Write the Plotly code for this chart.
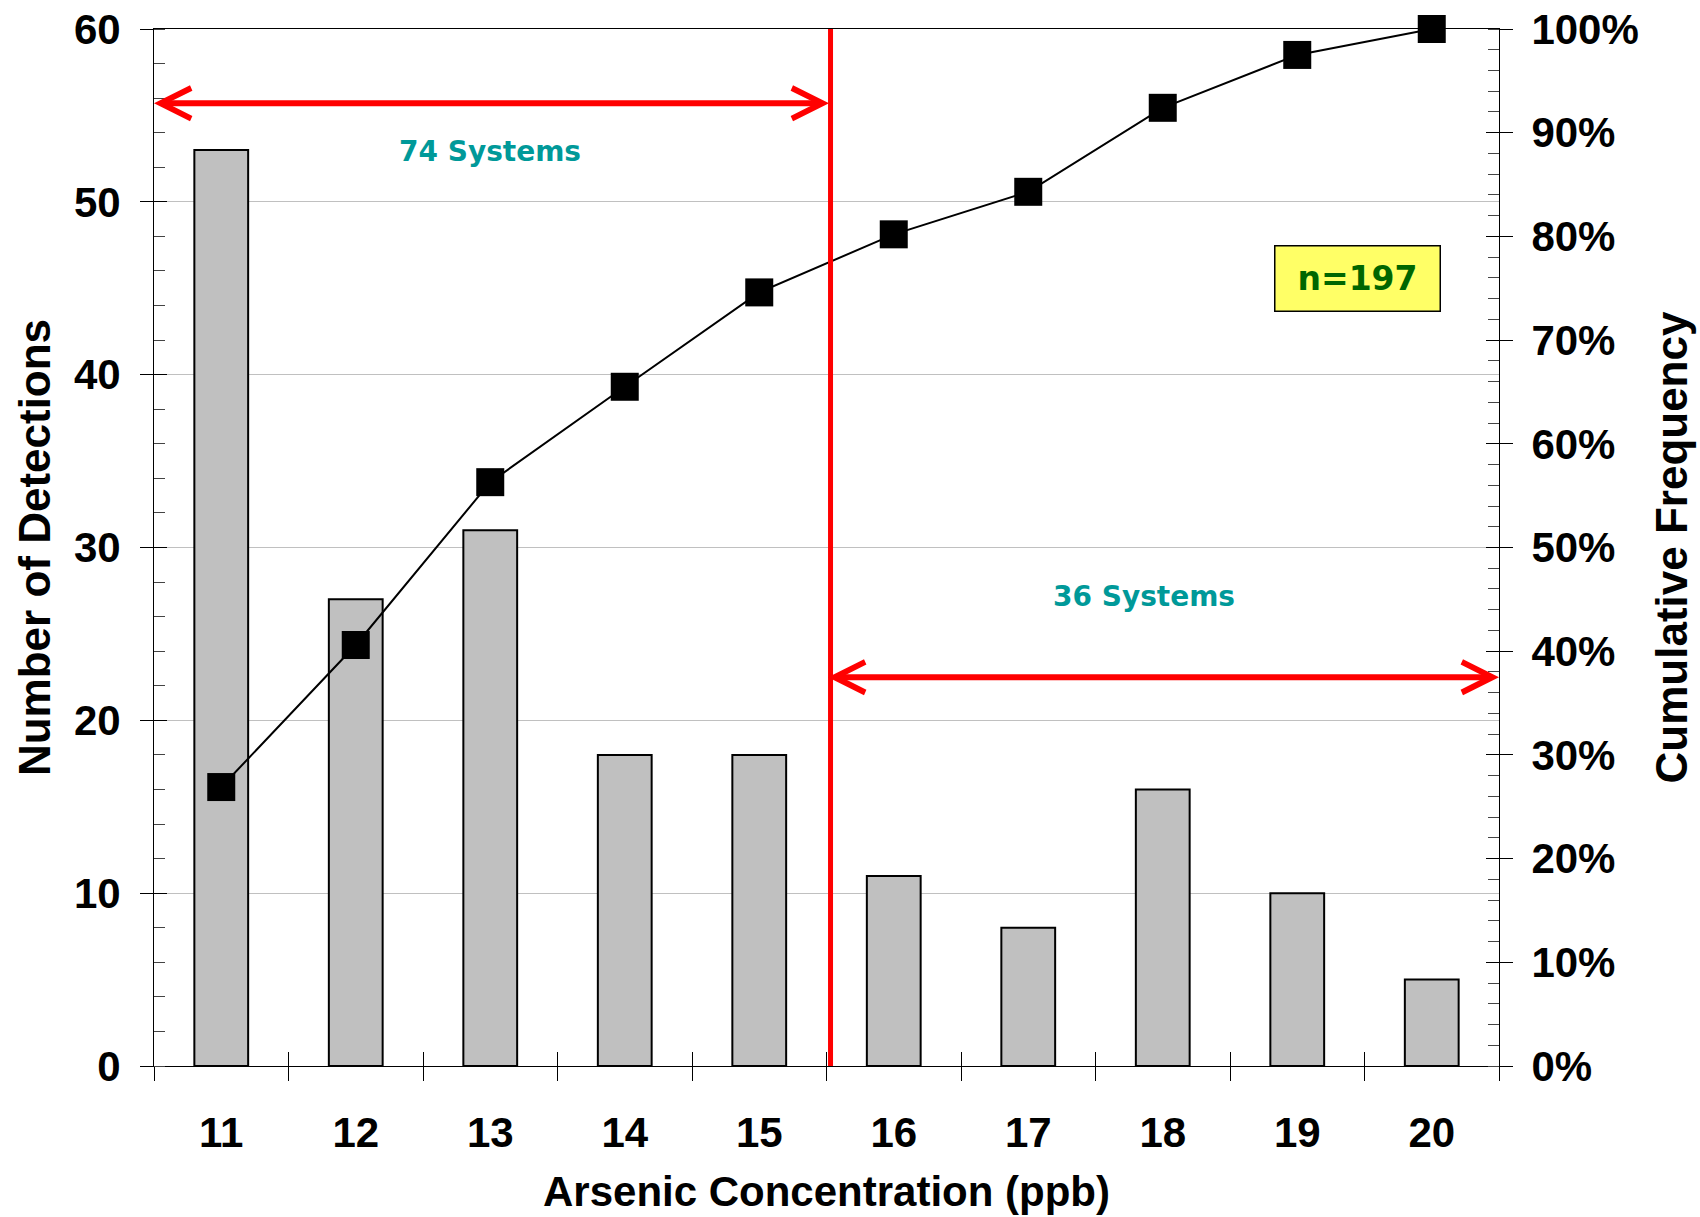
import plotly.graph_objects as go

# ---------------- data ----------------
concentration = [11, 12, 13, 14, 15, 16, 17, 18, 19, 20]
detections = [53, 27, 31, 18, 18, 11, 8, 16, 10, 5]
cumulative_pct = [26.9, 40.6, 56.3, 65.5, 74.6, 80.2, 84.3, 92.4, 97.5, 100.0]

left_ticks = [0, 10, 20, 30, 40, 50, 60]
right_ticks = [0, 10, 20, 30, 40, 50, 60, 70, 80, 90, 100]
right_tick_labels = ["0%", "10%", "20%", "30%", "40%", "50%", "60%", "70%", "80%", "90%", "100%"]
category_bounds = [10.5, 11.5, 12.5, 13.5, 14.5, 15.5, 16.5, 17.5, 18.5, 19.5, 20.5]

x_title = "Arsenic Concentration (ppb)"
y_title = "Number of Detections"
y2_title = "Cumulative Frequency"
label_left = "74 Systems"
label_right = "36 Systems"
label_n = "n=197"

threshold = 15.53
# ---------------------------------------

FONT = "Liberation Sans"
tickfont = dict(family=FONT, size=42, color="black", weight="bold")
xtitlefont = dict(family=FONT, size=42, color="black", weight="bold")
ytitlefont = dict(family=FONT, size=44, color="black", weight="bold")

fig = go.Figure()

fig.add_trace(go.Bar(
    x=concentration, y=detections, width=0.4,
    marker=dict(color="#C0C0C0", line=dict(color="black", width=2)),
    xaxis="x", yaxis="y", hoverinfo="skip",
))

fig.add_trace(go.Scatter(
    x=concentration, y=cumulative_pct, mode="lines+markers",
    line=dict(color="black", width=2),
    marker=dict(symbol="square", size=28, color="black"),
    xaxis="x", yaxis="y2", cliponaxis=False, hoverinfo="skip",
))

# helper (invisible) traces so the overlay tick axes get drawn
fig.add_trace(go.Scatter(x=concentration, y=detections, mode="markers",
                         marker=dict(opacity=0), xaxis="x2", yaxis="y3", hoverinfo="skip"))
fig.add_trace(go.Scatter(x=concentration, y=cumulative_pct, mode="markers",
                         marker=dict(opacity=0), xaxis="x", yaxis="y4", hoverinfo="skip"))

xrange = [category_bounds[0], category_bounds[-1]]

fig.update_layout(
    width=1700, height=1217,
    margin=dict(l=154, r=201, t=29, b=151, autoexpand=False),
    paper_bgcolor="white", plot_bgcolor="white",
    showlegend=False,
    xaxis=dict(
        range=xrange, tickmode="array", tickvals=concentration, ticks="",
        tickfont=tickfont, ticklabelstandoff=30, automargin=False,
        showline=True, linecolor="black", linewidth=1, mirror=True,
        showgrid=False, zeroline=False,
        minor=dict(tickmode="array", tickvals=category_bounds, ticks="outside",
                   ticklen=14, tickcolor="black", tickwidth=1, showgrid=False),
        title=dict(text=x_title, font=xtitlefont, standoff=21),
    ),
    xaxis2=dict(
        range=xrange, overlaying="x", anchor="y", side="bottom", automargin=False,
        tickmode="array", tickvals=category_bounds, ticks="inside", ticklen=14,
        tickcolor="black", tickwidth=1, showticklabels=False,
        showline=False, showgrid=False, zeroline=False,
    ),
    yaxis=dict(
        range=[0, 60], tickmode="array", tickvals=left_ticks, ticks="outside",
        ticklen=13, tickcolor="black", tickwidth=1, automargin=False,
        tickfont=tickfont, ticklabelstandoff=11,
        showline=True, linecolor="black", linewidth=1,
        showgrid=True, gridcolor="#C0C0C0", gridwidth=1, zeroline=False,
        minor=dict(dtick=2, tick0=0, ticks="inside", ticklen=11,
                   tickcolor="#444444", tickwidth=1, showgrid=False),
        title=dict(text=y_title, font=ytitlefont, standoff=9),
    ),
    yaxis3=dict(
        range=[0, 60], overlaying="y", anchor="x", side="left", automargin=False,
        tickmode="array", tickvals=left_ticks, ticks="inside", ticklen=13,
        tickcolor="black", tickwidth=1, showticklabels=False,
        showline=False, showgrid=False, zeroline=False,
    ),
    yaxis2=dict(
        range=[0, 100], overlaying="y", anchor="x", side="right", automargin=False,
        tickmode="array", tickvals=right_ticks, ticktext=right_tick_labels,
        ticks="outside", ticklen=13, tickcolor="black", tickwidth=1,
        tickfont=tickfont, ticklabelstandoff=10,
        showline=True, linecolor="black", linewidth=1,
        showgrid=False, zeroline=False,
        minor=dict(dtick=2, tick0=0, ticks="inside", ticklen=11,
                   tickcolor="#444444", tickwidth=1, showgrid=False),
        title=dict(text=y2_title, font=ytitlefont, standoff=18),
    ),
    yaxis4=dict(
        range=[0, 100], overlaying="y", anchor="x", side="right", automargin=False,
        tickmode="array", tickvals=right_ticks, ticks="inside", ticklen=13,
        tickcolor="black", tickwidth=1, showticklabels=False,
        showline=False, showgrid=False, zeroline=False,
    ),
)

# threshold line
fig.add_shape(type="line", xref="x", yref="y", x0=threshold, x1=threshold,
              y0=0, y1=60, line=dict(color="#FF0000", width=5), layer="above")

# double-headed arrows
fig.add_annotation(x=xrange[0], y=55.7, ax=threshold, ay=55.7,
                   xref="x", yref="y", axref="x", ayref="y", text="",
                   showarrow=True, arrowhead=5, startarrowhead=5, arrowside="end+start",
                   arrowwidth=6, arrowsize=1, startarrowsize=1, arrowcolor="#FF0000")
fig.add_annotation(x=xrange[1], y=22.5, ax=15.5, ay=22.5,
                   xref="x", yref="y", axref="x", ayref="y", text="",
                   showarrow=True, arrowhead=5, startarrowhead=5, arrowside="end+start",
                   arrowwidth=6, arrowsize=1, startarrowsize=1, arrowcolor="#FF0000")

sysfont = dict(family="DejaVu Sans", size=28, color="#009999", weight="bold")
fig.add_annotation(x=13.0, y=52.9, xref="x", yref="y", text=label_left,
                   showarrow=False, font=sysfont)
fig.add_annotation(x=17.86, y=27.14, xref="x", yref="y", text=label_right,
                   showarrow=False, font=sysfont)
fig.add_annotation(x=19.45, y=45.56, xref="x", yref="y", text=label_n,
                   showarrow=False,
                   font=dict(family="DejaVu Sans", size=33, color="#006600", weight="bold"),
                   bgcolor="#FFFF66", bordercolor="black", borderwidth=1.5,
                   width=160, height=60, borderpad=2)

fig.write_html("out.html", config={"displayModeBar": False},
               post_script="document.body.style.margin='0';")
